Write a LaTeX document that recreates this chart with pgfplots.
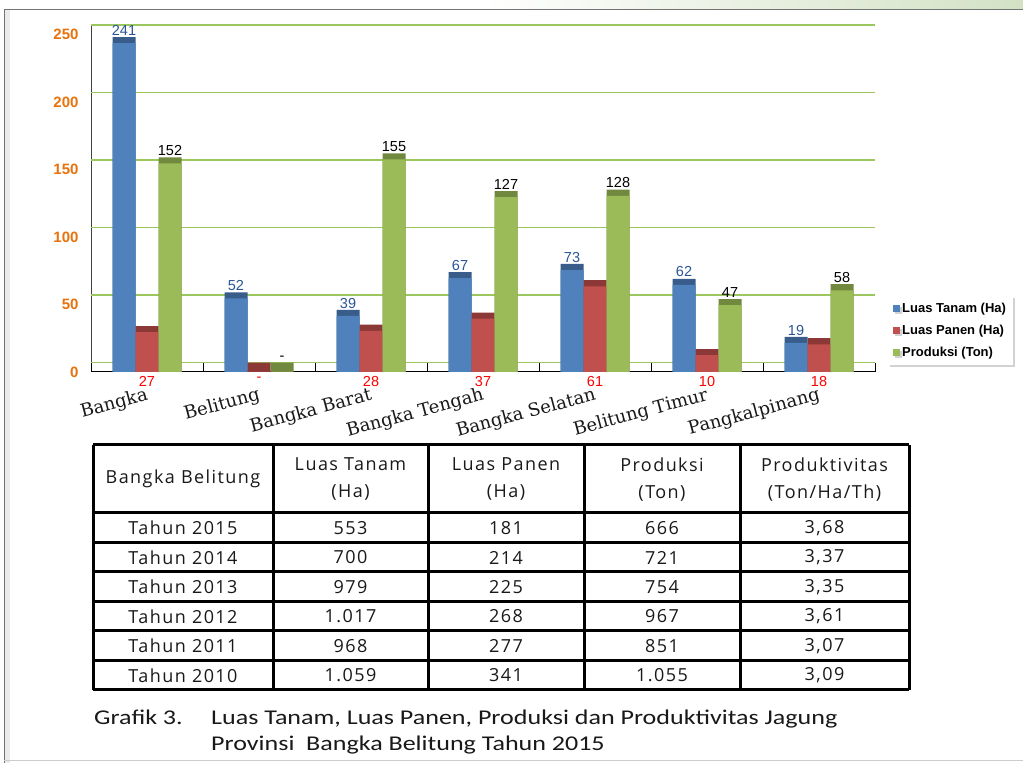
\documentclass[border=0pt]{standalone}
\usepackage{pgfplots}
\pgfplotsset{compat=1.18}
\usepackage{pgfplotstable}
\usepackage{fontspec}
\setmainfont{Liberation Sans}
\newfontfamily\slabfont{DejaVu Serif}
\newfontfamily\tabfont{Open Sans}[LetterSpace=8]
\newfontfamily\capfont{Carlito}[FakeStretch=1.24]
\usetikzlibrary{shadows}

\definecolor{tanam}{HTML}{4F81BD}
\definecolor{tanamD}{HTML}{385D8A}
\definecolor{panen}{HTML}{C0504D}
\definecolor{panenD}{HTML}{8C3836}
\definecolor{prod}{HTML}{9BBB59}
\definecolor{prodD}{HTML}{71893F}
\definecolor{gridg}{HTML}{9CC75E}
\definecolor{tickor}{HTML}{E8720C}
\definecolor{lblblue}{HTML}{2A5597}
\definecolor{bgstrip}{HTML}{D3E2C5}

% kabupaten/kota: luas tanam, luas panen, produksi (label kolom *l)
\pgfplotstableread{
x tanam tl panen pl prod rl
0 241 241 27 27 152 152
1 52  52  0  -  0   -
2 39  39  28 28 155 155
3 67  67  37 37 127 127
4 73  73  61 61 128 128
5 62  62  10 10 47  47
6 19  19  18 18 58  58
}\data

\begin{document}
\begin{tikzpicture}
\path[use as bounding box, fill=white] (0,0) rectangle (1023pt,763pt);
% bingkai
\shade[left color=white, right color=bgstrip] (480pt,753pt) rectangle (1023pt,763pt);
\fill[black!8] (4pt,0pt) rectangle (10pt,753pt);
\draw[black!55, line width=1pt] (4pt,0pt) -- (4pt,753pt) -- (1023pt,753pt);
\draw[black!20, line width=1pt] (4pt,2pt) -- (1023pt,2pt);

\begin{axis}[
  at={(91pt,391pt)}, anchor=south west,
  scale only axis, width=784pt, height=347pt,
  xmin=-0.5, xmax=6.5, ymin=0, ymax=257,
  axis x line*=bottom, axis y line*=left,
  x axis line style={black, line width=1pt},
  y axis line style={black!75, line width=1pt},
  ybar, bar width=23pt,
  ytick={0,50,...,250},
  yticklabel style={font=\bfseries\fontsize{15}{18}\selectfont, text=tickor, xshift=-9pt},
  ytick style={draw=none},
  extra y ticks={7,57,107,157,207,257},
  extra y tick labels={},
  extra y tick style={grid=major, major grid style={gridg, line width=1.5pt}, ytick style={draw=none}},
  xtick={0,...,6},
  xticklabels={Bangka,Belitung,Bangka Barat,Bangka Tengah,Bangka Selatan,Belitung Timur,Pangkalpinang},
  xticklabel style={font=\slabfont\fontsize{18}{20}\selectfont, text=black!90, rotate=15, anchor=north east, yshift=-6pt, xshift=-1pt},
  xtick style={draw=none},
  extra x ticks={-0.5,0.5,1.5,2.5,3.5,4.5,5.5,6.5},
  extra x tick labels={},
  extra x tick style={xtick style={draw=black, line width=0.8pt}, major tick length=9pt, tick align=inside},
  /pgf/number format/assume math mode=true,
  nodes near coords style={font=\fontsize{14.5}{16}\selectfont, inner sep=1.5pt},
  legend cell align=left,
  legend image code/.code={\fill[#1] (0pt,-3.5pt) rectangle (7pt,3.5pt);},
  legend style={at={(axis description cs:1.0166,0.02)}, anchor=south west,
    draw=none, fill=white, drop shadow={shadow xshift=2pt, shadow yshift=-2pt, opacity=0.35},
    font=\bfseries\fontsize{13}{14}\selectfont, row sep=7pt, inner sep=5pt},
]
% Luas Tanam
\addplot[forget plot, fill=tanamD, draw=none, bar shift=-23pt, y filter/.expression={y+7},
  nodes near coords, point meta=explicit symbolic,
  every node near coord/.append style={text=lblblue}] table[x=x,y=tanam,meta=tl]{\data};
\addplot[forget plot, fill=tanam, draw=none, bar shift=-23pt,
  y filter/.expression={y>0 ? y+2.5 : 0}] table[x=x,y=tanam]{\data};
% Luas Panen
\addplot[forget plot, fill=panenD, draw=none, bar shift=0pt, y filter/.expression={y+7}] table[x=x,y=panen]{\data};
\addplot[forget plot, fill=panen, draw=none, bar shift=0pt,
  y filter/.expression={y>0 ? y+2.5 : 0}] table[x=x,y=panen]{\data};
\addplot[forget plot, draw=none, fill=none, bar shift=0pt, y filter/.expression={0},
  nodes near coords, point meta=explicit symbolic, nodes near coords align={below},
  every node near coord/.append style={text=red, yshift=-3pt}] table[x=x,y=panen,meta=pl]{\data};
% Produksi
\addplot[forget plot, fill=prodD, draw=none, bar shift=23pt, y filter/.expression={y+7},
  nodes near coords, point meta=explicit symbolic,
  every node near coord/.append style={text=black}] table[x=x,y=prod,meta=rl]{\data};
\addplot[forget plot, fill=prod, draw=none, bar shift=23pt,
  y filter/.expression={y>0 ? y+2.5 : 0}] table[x=x,y=prod]{\data};

\addlegendimage{fill=tanam, draw=none}\addlegendentry{Luas Tanam (Ha)}
\addlegendimage{fill=panen, draw=none}\addlegendentry{Luas Panen (Ha)}
\addlegendimage{fill=prod, draw=none}\addlegendentry{Produksi (Ton)}
\end{axis}

% tabel
\begin{scope}[font=\tabfont\fontsize{18}{27}\selectfont, text=black!90]
\foreach \yy in {318,250,220,191,161,132,102,73}
  \draw[black, line width=3pt] (93pt,\yy pt) -- (909pt,\yy pt);
\foreach \xx in {93,273,428,584,740,909}
  \draw[black, line width=3pt] (\xx pt,318pt) -- (\xx pt,73pt);
\node at (183pt,284pt) {Bangka Belitung};
\node[align=center] at (350.5pt,283.5pt) {Luas Tanam\\(Ha)};
\node[align=center] at (506pt,283.5pt) {Luas Panen\\(Ha)};
\node[align=center] at (662pt,283.5pt) {Produksi\\(Ton)};
\node[align=center] at (824.5pt,283.5pt) {Produktivitas\\(Ton/Ha/Th)};
\foreach \yy/\a/\b/\c/\d/\e in {
  235/Tahun 2015/553/181/666/{3,68},
  205.5/Tahun 2014/700/214/721/{3,37},
  176/Tahun 2013/979/225/754/{3,35},
  146.5/Tahun 2012/1.017/268/967/{3,61},
  117/Tahun 2011/968/277/851/{3,07},
  87.5/Tahun 2010/1.059/341/1.055/{3,09}}{
  \node at (183pt,\yy pt) {\a};
  \node at (350.5pt,\yy pt) {\b};
  \node at (506pt,\yy pt) {\c};
  \node at (662pt,\yy pt) {\d};
  \node at (824.5pt,\yy pt) {\e};
}
\end{scope}

% keterangan
\begin{scope}[font=\capfont\fontsize{21}{25}\selectfont, text=black!90]
\node[anchor=base west, inner sep=0pt] at (94pt,38pt) {Grafik 3.};
\node[anchor=base west, inner sep=0pt] at (211pt,38pt) {Luas Tanam, Luas Panen, Produksi dan Produktivitas Jagung};
\node[anchor=base west, inner sep=0pt] at (211pt,12pt) {Provinsi\ \ Bangka Belitung Tahun 2015};
\end{scope}
\end{tikzpicture}
\end{document}
